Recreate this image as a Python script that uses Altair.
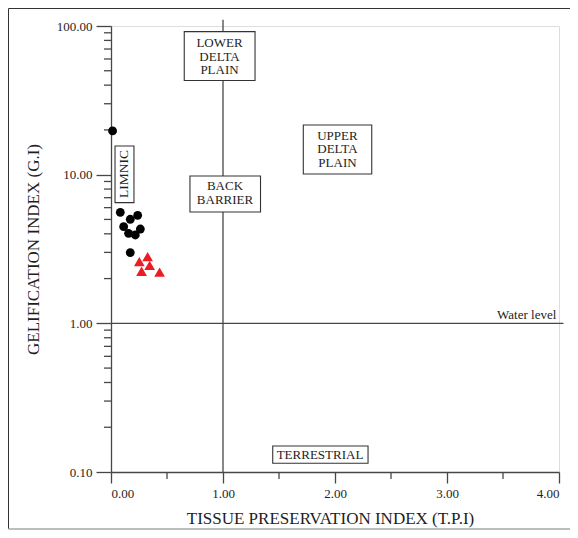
import altair as alt
import pandas as pd

# ---- data ----
circle_tpi = [0.014, 0.083, 0.172, 0.238, 0.113, 0.262, 0.157, 0.217, 0.172]
circle_gi = [19.7, 5.58, 5.01, 5.33, 4.47, 4.31, 4.03, 3.93, 2.99]
triangle_tpi = [0.327, 0.253, 0.345, 0.273, 0.434]
triangle_gi = [2.81, 2.60, 2.45, 2.24, 2.21]

x_ticks = [0, 1, 2, 3, 4]
x_minor = [0.5, 1.5, 2.5, 3.5]
y_ticks = [0.1, 1, 10, 100]
y_minor = [0.2, 0.3, 0.4, 0.5, 0.6, 0.7, 0.8, 0.9,
           2, 3, 4, 5, 6, 7, 8, 9,
           20, 30, 40, 50, 60, 70, 80, 90]

# facies fields (label, label position, box extent)
field_names = ["LOWER\nDELTA\nPLAIN", "BACK\nBARRIER", "UPPER\nDELTA\nPLAIN", "TERRESTRIAL"]
field_lines = [3, 2, 3, 1]
field_tpi = [0.969, 1.018, 2.022, 1.866]
field_gi = [62.1, 7.55, 14.8, 0.130]
box_tpi1 = [0.654, 0.705, 1.717, 1.444]
box_tpi2 = [1.286, 1.335, 2.328, 2.295]
box_gi1 = [43.0, 5.61, 10.1, 0.1144]
box_gi2 = [91.6, 9.79, 21.6, 0.1496]

limnic_label = ["LIMNIC"]
limnic_tpi = [0.1205]
limnic_gi = [10.1]
limnic_box_tpi1 = [0.036]
limnic_box_tpi2 = [0.205]
limnic_box_gi1 = [6.49]
limnic_box_gi2 = [15.6]

# boundary lines: TPI = 1 and GI = 1 (water level)
vline_tpi = [1.0]
vline_gi1 = [0.1]
vline_gi2 = [110]
hline_gi = [1.0]
hline_tpi1 = [0.0]
hline_tpi2 = [4.04]
water_label = ["Water level"]
water_tpi = [3.976]
water_gi = [1.0]

# ---- styling ----
FONT = "Liberation Serif"
LINE = "#474747"
TEXT = "#1e1e1e"
W, H = 448, 446
LH = 13.5

x_scale = alt.Scale(domain=[0, 4], nice=False, zero=False)
y_scale = alt.Scale(type="log", domain=[0.1, 100], nice=False)

x_axis = alt.Axis(values=x_ticks, format=".2f", tickSize=11, labelPadding=4,
                  labelFontSize=13, labelFont=FONT, labelColor=TEXT,
                  domainColor=LINE, tickColor=LINE, domainWidth=1.3, tickWidth=1.3,
                  grid=False, title="TISSUE PRESERVATION INDEX (T.P.I)",
                  titleFont=FONT, titleFontSize=17, titleFontWeight="normal",
                  titleColor=TEXT, titleBaseline="alphabetic", titleY=51, titleX=219)
y_axis = alt.Axis(values=y_ticks, format=".2f", tickSize=15, labelPadding=4,
                  labelFontSize=13, labelFont=FONT, labelColor=TEXT,
                  domainColor=LINE, tickColor=LINE, domainWidth=1.3, tickWidth=1.3,
                  grid=False, title="GELIFICATION INDEX (G.I)",
                  titleFont=FONT, titleFontSize=17, titleFontWeight="normal",
                  titleColor=TEXT, titleBaseline="alphabetic", titleX=-73, titleY=223,
                  titleAngle=270)


def X(field="tpi"):
    return alt.X(field, type="quantitative", scale=x_scale, axis=x_axis)


def Y(field="gi"):
    return alt.Y(field, type="quantitative", scale=y_scale, axis=y_axis)


circles = pd.DataFrame({"tpi": circle_tpi, "gi": circle_gi})
triangles = pd.DataFrame({"tpi": triangle_tpi, "gi": triangle_gi})
fields = pd.DataFrame({"label": field_names, "n": field_lines, "tpi": field_tpi, "gi": field_gi,
                       "tpi1": box_tpi1, "tpi2": box_tpi2, "gi1": box_gi1, "gi2": box_gi2})
limnic = pd.DataFrame({"label": limnic_label, "tpi": limnic_tpi, "gi": limnic_gi,
                       "tpi1": limnic_box_tpi1, "tpi2": limnic_box_tpi2,
                       "gi1": limnic_box_gi1, "gi2": limnic_box_gi2})
vline = pd.DataFrame({"tpi": vline_tpi, "gi1": vline_gi1, "gi2": vline_gi2})
hline = pd.DataFrame({"gi": hline_gi, "tpi1": hline_tpi1, "tpi2": hline_tpi2})
water = pd.DataFrame({"label": water_label, "tpi": water_tpi, "gi": water_gi})
xminor = pd.DataFrame({"tpi": x_minor})
yminor = pd.DataFrame({"gi": y_minor})

frame_df = pd.DataFrame({"k": [0]})

# frame around the whole figure
frame_top = alt.Chart(frame_df).mark_rule(color="#333333", strokeWidth=1).encode(
    x=alt.value(-102.5), x2=alt.value(470), y=alt.value(-17.5))
frame_left = alt.Chart(frame_df).mark_rule(color="#333333", strokeWidth=1).encode(
    x=alt.value(-102.5), y=alt.value(-17.5), y2=alt.value(503))
frame_bottom = alt.Chart(frame_df).mark_rule(color="#bdbdbd", strokeWidth=2).encode(
    x=alt.value(-102.5), x2=alt.value(470), y=alt.value(503))

v_rule = alt.Chart(vline).mark_rule(color=LINE, strokeWidth=1.3).encode(
    x=X("tpi"), y=Y("gi1"), y2="gi2")
h_rule = alt.Chart(hline).mark_rule(color=LINE, strokeWidth=1.3).encode(
    y=Y("gi"), x=X("tpi1"), x2="tpi2")

x_minor_ticks = alt.Chart(xminor).mark_rule(color=LINE, strokeWidth=1.3).encode(
    x=X("tpi"), y=alt.value(H), y2=alt.value(H + 7))
y_minor_ticks = alt.Chart(yminor).mark_rule(color=LINE, strokeWidth=1.3).encode(
    y=Y("gi"), x=alt.value(-7), x2=alt.value(0))

boxes = alt.Chart(fields).mark_rect(fill="white", stroke="#333333", strokeWidth=1.1).encode(
    x=X("tpi1"), x2="tpi2", y=Y("gi1"), y2="gi2")


def field_text(n):
    return alt.Chart(fields).transform_filter(alt.datum.n == n).mark_text(
        font=FONT, fontSize=13, color=TEXT, lineBreak="\n", lineHeight=LH,
        baseline="middle", align="center", dy=-(n - 1) * LH / 2).encode(
        x=X("tpi"), y=Y("gi"), text="label")


limnic_box = alt.Chart(limnic).mark_rect(fill="white", stroke="#333333", strokeWidth=1.1).encode(
    x=X("tpi1"), x2="tpi2", y=Y("gi1"), y2="gi2")
limnic_text = alt.Chart(limnic).mark_text(font=FONT, fontSize=13.5, color=TEXT, angle=270,
                                          baseline="middle", align="center").encode(
    x=X("tpi"), y=Y("gi"), text="label")

water_text = alt.Chart(water).mark_text(font=FONT, fontSize=13, color=TEXT, align="right",
                                        baseline="alphabetic", dy=-4).encode(
    x=X("tpi"), y=Y("gi"), text="label")

circle_pts = alt.Chart(circles).mark_point(shape="circle", filled=True, size=78,
                                           color="#000000", opacity=1).encode(
    x=X("tpi"), y=Y("gi"))
triangle_pts = alt.Chart(triangles).mark_point(shape="triangle-up", filled=True, size=115,
                                               color="#ec1c24", opacity=1).encode(
    x=X("tpi"), y=Y("gi"))

chart = alt.layer(
    frame_top, frame_left, frame_bottom,
    v_rule, h_rule, x_minor_ticks, y_minor_ticks,
    boxes, field_text(1), field_text(2), field_text(3),
    limnic_box, limnic_text, water_text,
    circle_pts, triangle_pts,
).properties(
    width=W, height=H,
    autosize=alt.AutoSizeParams(type="none"),
    padding={"left": 103, "top": 18, "right": 11, "bottom": 58},
    background="white",
).configure_view(stroke=None).configure(font=FONT)

chart.save("out.html", embed_options={"renderer": "svg", "actions": False})
